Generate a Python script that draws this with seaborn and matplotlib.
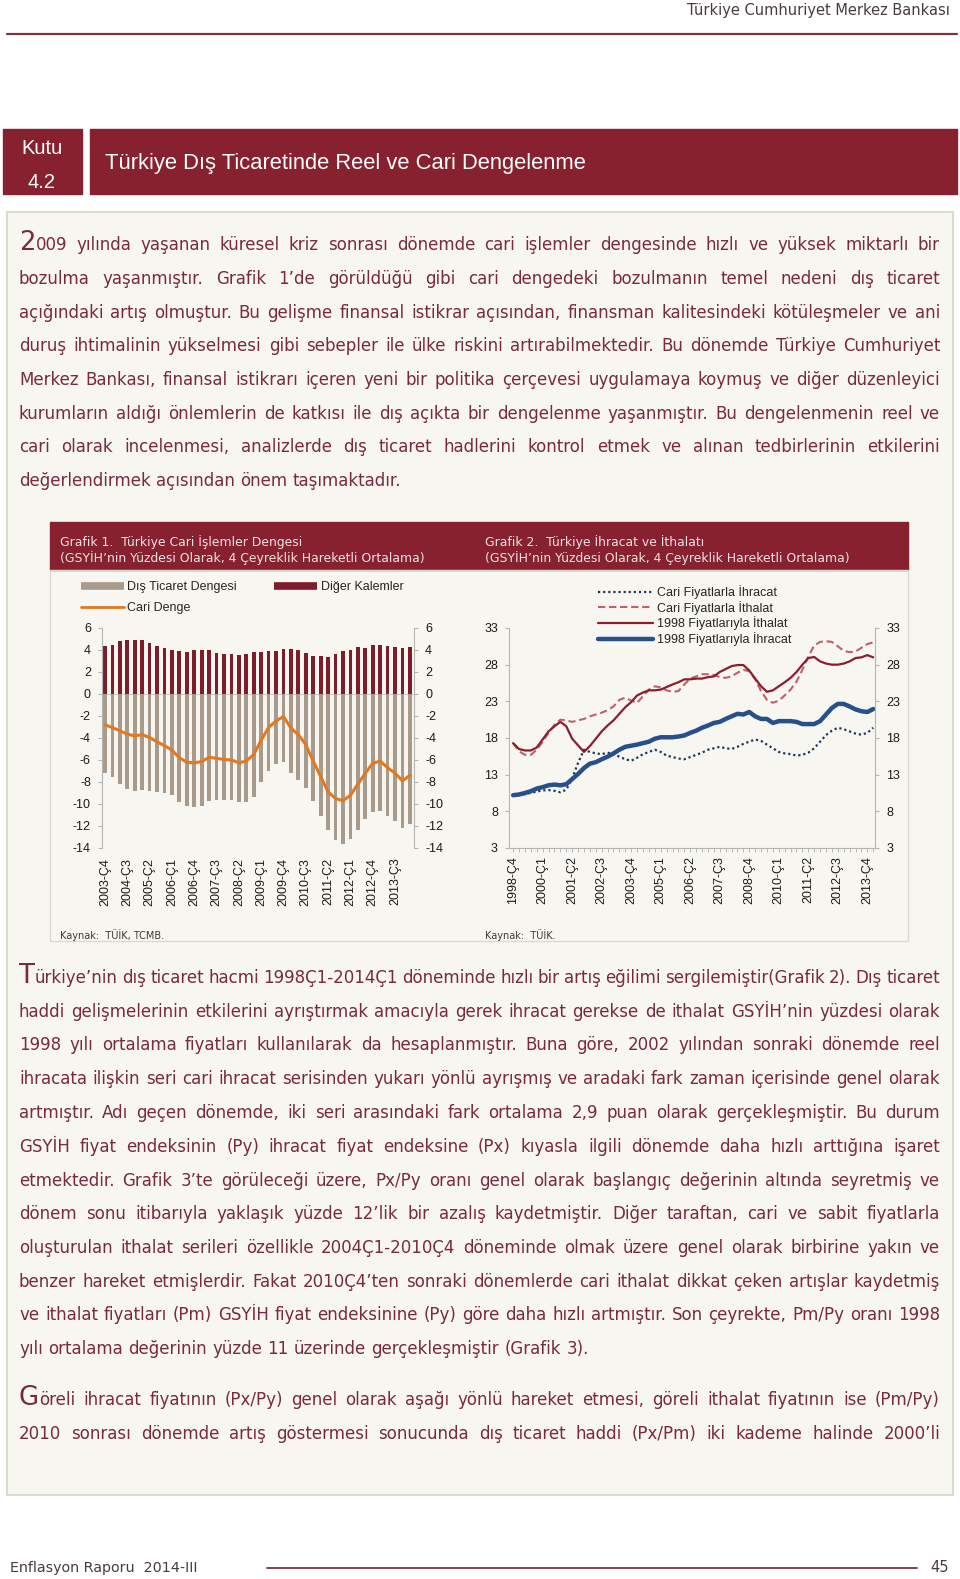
import numpy as np
import matplotlib
matplotlib.use('Agg')
import matplotlib.pyplot as plt
import seaborn as sns
from matplotlib.patches import Rectangle
from matplotlib.lines import Line2D

# Page size (pixels, dpi 100)
W, H = 960, 1579

# Grafik 1: Türkiye cari işlemler dengesi, 2003-Ç4 .. 2014-Ç1
g1_ticklabels = ['2003-Ç4', '2004-Ç3', '2005-Ç2', '2006-Ç1', '2006-Ç4', '2007-Ç3', '2008-Ç2',
                 '2009-Ç1', '2009-Ç4', '2010-Ç3', '2011-Ç2', '2012-Ç1', '2012-Ç4', '2013-Ç3']
dis_ticaret = [-7.2, -7.55, -8.15, -8.6, -8.8, -8.7, -8.8, -8.9, -9.0, -9.2,
               -9.8, -10.15, -10.25, -10.2, -9.75, -9.65, -9.6, -9.65, -9.8, -9.8,
               -9.35, -8.0, -7.0, -6.4, -6.15, -7.2, -7.8, -8.5, -9.7, -11.05,
               -12.4, -13.25, -13.6, -13.15, -12.4, -11.4, -10.7, -10.6, -11.1, -11.5,
               -12.2, -11.8]
diger_kalemler = [4.33, 4.48, 4.82, 4.88, 4.91, 4.94, 4.64, 4.39, 4.18, 4.03,
                  3.94, 3.85, 3.97, 3.97, 3.97, 3.73, 3.61, 3.64, 3.52, 3.64,
                  3.82, 3.82, 3.94, 3.94, 4.06, 4.06, 4.03, 3.73, 3.48, 3.42,
                  3.33, 3.64, 3.88, 4.03, 4.3, 4.21, 4.42, 4.48, 4.36, 4.27,
                  4.15, 4.3]
cari_denge = [-2.8, -3.05, -3.35, -3.65, -3.8, -3.7, -3.95, -4.35, -4.7, -5.1,
              -5.8, -6.2, -6.25, -6.15, -5.75, -5.85, -5.95, -6.0, -6.25, -6.1,
              -5.5, -4.2, -3.05, -2.45, -2.05, -3.1, -3.7, -4.6, -6.1, -7.5,
              -8.9, -9.5, -9.7, -9.2, -8.2, -7.2, -6.3, -6.1, -6.7, -7.2,
              -7.9, -7.4]

# Grafik 2: Türkiye ihracat ve ithalatı, 1998-Ç4 .. 2014-Ç1
g2_ticklabels = ['1998-Ç4', '2000-Ç1', '2001-Ç2', '2002-Ç3', '2003-Ç4', '2005-Ç1', '2006-Ç2',
                 '2007-Ç3', '2008-Ç4', '2010-Ç1', '2011-Ç2', '2012-Ç3', '2013-Ç4']
ihracat_cari = [10.3, 10.2, 10.35, 10.5, 10.7, 10.85, 10.9, 10.8, 10.6, 10.95,
                12.5, 14.6, 16.4, 16.1, 15.9, 15.8, 16.0, 15.8, 15.45, 15.1,
                14.9, 15.3, 15.8, 16.1, 16.4, 16.1, 15.6, 15.4, 15.2, 15.1,
                15.4, 15.7, 16.0, 16.4, 16.6, 16.8, 16.6, 16.5, 16.8, 17.2,
                17.5, 17.8, 17.6, 17.1, 16.6, 16.1, 15.9, 15.8, 15.6, 15.7,
                16.0, 16.6, 17.5, 18.4, 19.0, 19.4, 19.2, 18.9, 18.6, 18.45,
                18.7, 19.4]
ithalat_cari = [17.3, 16.2, 15.7, 15.7, 16.4, 17.5, 18.7, 19.8, 20.5, 20.4,
                20.2, 20.4, 20.6, 20.95, 21.2, 21.45, 21.8, 22.3, 23.2, 23.5,
                23.1, 22.8, 23.7, 24.6, 25.05, 24.9, 24.5, 24.3, 24.4, 25.3,
                26.1, 26.4, 26.7, 26.7, 26.6, 26.3, 26.2, 26.4, 26.9, 27.3,
                27.1, 26.0, 24.4, 23.2, 22.8, 23.1, 23.8, 24.6, 25.7, 27.3,
                29.1, 30.6, 31.1, 31.2, 31.1, 30.5, 29.9, 29.7, 29.8, 30.3,
                30.8, 31.05]
ithalat_1998 = [17.3, 16.5, 16.3, 16.3, 16.7, 17.8, 18.9, 19.6, 20.2, 19.6,
                17.9, 17.0, 16.1, 16.9, 17.9, 18.9, 19.7, 20.4, 21.3, 22.2,
                22.9, 23.8, 24.2, 24.5, 24.5, 24.6, 24.95, 25.3, 25.6, 26.0,
                26.0, 26.1, 26.1, 26.3, 26.4, 27.0, 27.4, 27.8, 27.95, 27.95,
                27.2, 26.1, 25.05, 24.3, 24.5, 25.05, 25.6, 26.2, 27.0, 28.0,
                28.9, 29.05, 28.45, 28.15, 28.0, 28.0, 28.15, 28.45, 28.9, 29.0,
                29.3, 29.0]
ihracat_1998 = [10.2, 10.3, 10.5, 10.75, 11.1, 11.3, 11.55, 11.65, 11.55, 11.7,
                12.4, 13.1, 13.9, 14.5, 14.7, 15.1, 15.45, 15.9, 16.4, 16.8,
                16.95, 17.1, 17.3, 17.5, 17.9, 18.1, 18.1, 18.1, 18.2, 18.35,
                18.7, 19.0, 19.4, 19.7, 20.05, 20.2, 20.6, 20.95, 21.3, 21.2,
                21.55, 20.95, 20.6, 20.6, 20.05, 20.3, 20.3, 20.3, 20.2, 19.9,
                19.9, 19.9, 20.3, 21.2, 22.1, 22.65, 22.65, 22.3, 21.9, 21.65,
                21.55, 21.95]

# Text of the box
para1 = [
    "2009 yılında yaşanan küresel kriz sonrası dönemde cari işlemler dengesinde hızlı ve yüksek miktarlı bir",
    "bozulma yaşanmıştır. Grafik 1’de görüldüğü gibi cari dengedeki bozulmanın temel nedeni dış ticaret",
    "açığındaki artış olmuştur. Bu gelişme finansal istikrar açısından, finansman kalitesindeki kötüleşmeler ve ani",
    "duruş ihtimalinin yükselmesi gibi sebepler ile ülke riskini artırabilmektedir. Bu dönemde Türkiye Cumhuriyet",
    "Merkez Bankası, finansal istikrarı içeren yeni bir politika çerçevesi uygulamaya koymuş ve diğer düzenleyici",
    "kurumların aldığı önlemlerin de katkısı ile dış açıkta bir dengelenme yaşanmıştır. Bu dengelenmenin reel ve",
    "cari olarak incelenmesi, analizlerde dış ticaret hadlerini kontrol etmek ve alınan tedbirlerinin etkilerini",
    "değerlendirmek açısından önem taşımaktadır.",
]
para2 = [
    "Türkiye’nin dış ticaret hacmi 1998Ç1-2014Ç1 döneminde hızlı bir artış eğilimi sergilemiştir(Grafik 2). Dış ticaret",
    "haddi gelişmelerinin etkilerini ayrıştırmak amacıyla gerek ihracat gerekse de ithalat GSYİH’nin yüzdesi olarak",
    "1998 yılı ortalama fiyatları kullanılarak da hesaplanmıştır. Buna göre, 2002 yılından sonraki dönemde reel",
    "ihracata ilişkin seri cari ihracat serisinden yukarı yönlü ayrışmış ve aradaki fark zaman içerisinde genel olarak",
    "artmıştır. Adı geçen dönemde, iki seri arasındaki fark ortalama 2,9 puan olarak gerçekleşmiştir. Bu durum",
    "GSYİH fiyat endeksinin (Py) ihracat fiyat endeksine (Px) kıyasla ilgili dönemde daha hızlı arttığına işaret",
    "etmektedir. Grafik 3’te görüleceği üzere, Px/Py oranı genel olarak başlangıç değerinin altında seyretmiş ve",
    "dönem sonu itibarıyla yaklaşık yüzde 12’lik bir azalış kaydetmiştir. Diğer taraftan, cari ve sabit fiyatlarla",
    "oluşturulan ithalat serileri özellikle 2004Ç1-2010Ç4 döneminde olmak üzere genel olarak birbirine yakın ve",
    "benzer hareket etmişlerdir. Fakat 2010Ç4’ten sonraki dönemlerde cari ithalat dikkat çeken artışlar kaydetmiş",
    "ve ithalat fiyatları (Pm) GSYİH fiyat endeksinine (Py) göre daha hızlı artmıştır. Son çeyrekte, Pm/Py oranı 1998",
    "yılı ortalama değerinin yüzde 11 üzerinde gerçekleşmiştir (Grafik 3).",
]
para3 = [
    "Göreli ihracat fiyatının (Px/Py) genel olarak aşağı yönlü hareket etmesi, göreli ithalat fiyatının ise (Pm/Py)",
    "2010 sonrası dönemde artış göstermesi sonucunda dış ticaret haddi (Px/Pm) iki kademe halinde 2000’li",
]

# Colours
RED = '#87202f'
TEXT_RED = '#7a2a38'
BEIGE = '#f7f6f1'
TAN = '#a99b8c'
DARK_RED = '#7e1c2c'
ORANGE = '#e5781f'
NAVY = '#1f3560'
ROSE = '#c0606b'
SOLID_RED = '#8b1e2f'
BLUE = '#27508a'
SPINE = '#b5b5b5'
GREY_TEXT = '#4a3b3f'

sns.set_theme(style='white')
plt.rcParams['font.family'] = ['Liberation Sans', 'DejaVu Sans']
plt.rcParams['axes.unicode_minus'] = False
BODY_FONT = ['DejaVu Sans']


def px_rect(x0, y0, x1, y1):
    # pixel box (top-left origin) -> figure fraction rect
    return [x0 / W, 1 - y1 / H, (x1 - x0) / W, (y1 - y0) / H]


fig = plt.figure(figsize=(W / 100, H / 100), dpi=100, facecolor='white')
page = fig.add_axes([0, 0, 1, 1])
page.set_xlim(0, W)
page.set_ylim(H, 0)
page.axis('off')

# Header
page.text(950, 10, 'Türkiye Cumhuriyet Merkez Bankası', ha='right', va='center',
          fontsize=10.5, color=GREY_TEXT, family=BODY_FONT)
page.plot([7, 957], [34, 34], color='#7b3440', lw=1.6)

# Title boxes
page.add_patch(Rectangle((3, 129), 79, 65, color=RED))
page.add_patch(Rectangle((90, 129), 867, 65, color=RED))
page.text(42, 149, 'Kutu', ha='center', va='center', color='white', fontsize=14.5)
page.text(42, 182, '4.2', ha='center', va='center', color='white', fontsize=14.5)
page.text(105, 164, 'Türkiye Dış Ticaretinde Reel ve Cari Dengelenme', ha='left', va='center',
          color='white', fontsize=15.8)

# Content box
page.add_patch(Rectangle((7, 212), 946, 1283, facecolor=BEIGE, edgecolor='#dcdccd', lw=1.5))

# Chart panel
page.add_patch(Rectangle((50, 522), 858, 48, color=RED))
page.add_patch(Rectangle((50, 570), 858, 371, fill=False, edgecolor='#dadad0', lw=1))
TITLE_C = '#f3e2e2'
page.text(60, 542, 'Grafik 1.  Türkiye Cari İşlemler Dengesi', va='center', color=TITLE_C,
          fontsize=8.9, family=BODY_FONT)
page.text(60, 558, '(GSYİH’nin Yüzdesi Olarak, 4 Çeyreklik Hareketli Ortalama)', va='center',
          color=TITLE_C, fontsize=8.9, family=BODY_FONT)
page.text(485, 542, 'Grafik 2.  Türkiye İhracat ve İthalatı', va='center', color=TITLE_C,
          fontsize=8.9, family=BODY_FONT)
page.text(485, 558, '(GSYİH’nin Yüzdesi Olarak, 4 Çeyreklik Hareketli Ortalama)', va='center',
          color=TITLE_C, fontsize=8.9, family=BODY_FONT)
page.text(60, 935, 'Kaynak:  TÜİK, TCMB.', va='center', color='#3a3a3a', fontsize=7,
          family=BODY_FONT)
page.text(485, 935, 'Kaynak:  TÜİK.', va='center', color='#3a3a3a', fontsize=7,
          family=BODY_FONT)

# Body text, justified word by word
BODY_SIZE = 12
renderer = fig.canvas.get_renderer()


def draw_paragraph(lines, y0, justify_last, x0=19, x1=940, step=33.75):
    size_px = BODY_SIZE * 100 / 72
    for k, line in enumerate(lines):
        y = y0 + k * step
        words = line.split()
        pieces = []
        total = 0
        for j, w in enumerate(words):
            if k == 0 and j == 0:
                parts = [page.text(0, y, w[0], fontsize=BODY_SIZE * 1.55, color=TEXT_RED,
                                   family=BODY_FONT, va='baseline'),
                         page.text(0, y, w[1:], fontsize=BODY_SIZE, color=TEXT_RED,
                                   family=BODY_FONT, va='baseline')]
            else:
                parts = [page.text(0, y, w, fontsize=BODY_SIZE, color=TEXT_RED,
                                   family=BODY_FONT, va='baseline')]
            ws = [p.get_window_extent(renderer).width for p in parts]
            pieces.append((parts, ws))
            total += sum(ws)
        is_last = k == len(lines) - 1 and not justify_last
        min_gap = 4.0
        n_gaps = max(len(words) - 1, 1)
        if total + min_gap * n_gaps > x1 - x0:
            # too long for the measure: shrink this line a little
            s = (x1 - x0 - min_gap * n_gaps) / total
            for parts, ws in pieces:
                for i, p in enumerate(parts):
                    p.set_fontsize(p.get_fontsize() * s)
                    ws[i] *= s
            total *= s
        if is_last or len(words) < 2:
            gap = size_px * 0.32
        else:
            gap = (x1 - x0 - total) / n_gaps
        x = x0
        for parts, ws in pieces:
            for p, wpx in zip(parts, ws):
                p.set_x(x)
                x += wpx
            x += gap


draw_paragraph(para1, 250, False)
draw_paragraph(para2, 983, False)
draw_paragraph(para3, 1405, True)

# Footer
page.text(10, 1568, 'Enflasyon Raporu  2014-III', va='center', fontsize=10.3, color=GREY_TEXT,
          family=BODY_FONT)
page.plot([267, 917], [1568, 1568], color='#7b3440', lw=1.3)
page.text(949, 1568, '45', ha='right', va='center', fontsize=10.5, color=GREY_TEXT,
          family=BODY_FONT)

# ---- Grafik 1 ----
ax1 = fig.add_axes(px_rect(102, 628, 414, 848))
idx1 = np.arange(len(dis_ticaret))
sns.barplot(x=idx1, y=dis_ticaret, native_scale=True, width=0.5, color=TAN, saturation=1,
            linewidth=0, errorbar=None, ax=ax1)
sns.barplot(x=idx1, y=diger_kalemler, native_scale=True, width=0.5, color=DARK_RED,
            saturation=1, linewidth=0, errorbar=None, ax=ax1)
sns.lineplot(x=idx1, y=cari_denge, color=ORANGE, linewidth=2.2, ax=ax1)
ax1.axhline(0, color='#c8c8c8', lw=0.8, zorder=0)
ax1.set_xlim(-0.4, 41.55)
ax1.set_ylim(-14, 6)
ax1.set_yticks(range(-14, 7, 2))
ax1.set_xticks(idx1[::3])
ax1.set_xticklabels(g1_ticklabels, rotation=90)
ax1.tick_params(axis='x', length=0, pad=7, labelsize=9, colors='#1a1a1a')
ax1.tick_params(axis='y', left=True, right=True, labelleft=True, labelright=True, length=3,
                width=0.8, color=SPINE, labelcolor='#1a1a1a', direction='out', pad=5, labelsize=9)
for s in ['top', 'bottom']:
    ax1.spines[s].set_visible(False)
for s in ['left', 'right']:
    ax1.spines[s].set_color(SPINE)
    ax1.spines[s].set_linewidth(0.8)
ax1.set_facecolor('none')
ax1.set_xlabel('')
ax1.set_ylabel('')

h1 = [Line2D([], [], color=TAN, lw=5.5, solid_capstyle='butt'),
      Line2D([], [], color=ORANGE, lw=2),
      Line2D([], [], color=DARK_RED, lw=5.5, solid_capstyle='butt')]
fig.legend(handles=h1, labels=['Dış Ticaret Dengesi', 'Cari Denge', 'Diğer Kalemler'],
           loc='upper left', bbox_to_anchor=(81 / W, 1 - 581 / H), ncol=2, frameon=False,
           fontsize=9, handlelength=3.4, handletextpad=0.3, columnspacing=3.0,
           labelspacing=0.75, borderpad=0, borderaxespad=0)

# ---- Grafik 2 ----
ax2 = fig.add_axes(px_rect(509, 628, 875, 848))
idx2 = np.arange(len(ihracat_cari))
sns.lineplot(x=idx2, y=ihracat_cari, color=NAVY, linewidth=1.6, linestyle=(0, (1, 1.3)), ax=ax2)
sns.lineplot(x=idx2, y=ithalat_cari, color=ROSE, linewidth=1.5, linestyle=(0, (3.5, 1.8)), ax=ax2)
sns.lineplot(x=idx2, y=ithalat_1998, color=SOLID_RED, linewidth=1.6, ax=ax2)
sns.lineplot(x=idx2, y=ihracat_1998, color=BLUE, linewidth=3.2, ax=ax2)
ax2.set_xlim(-0.7, 61.3)
ax2.set_ylim(3, 33)
ax2.set_yticks(range(3, 34, 5))
ax2.set_xticks(idx2[::5])
ax2.set_xticklabels(g2_ticklabels, rotation=90)
ax2.set_xticks(idx2, minor=True)
ax2.tick_params(axis='x', which='both', bottom=True, length=3, width=0.7, color=SPINE,
                direction='out', pad=3, labelsize=9, labelcolor='#1a1a1a')
ax2.tick_params(axis='y', left=True, right=True, labelleft=True, labelright=True, length=3,
                width=0.8, color=SPINE, labelcolor='#1a1a1a', direction='out', pad=5, labelsize=9)
ax2.spines['top'].set_visible(False)
for s in ['left', 'right', 'bottom']:
    ax2.spines[s].set_color(SPINE)
    ax2.spines[s].set_linewidth(0.8)
ax2.set_facecolor('none')
ax2.set_xlabel('')
ax2.set_ylabel('')

h2 = [Line2D([], [], color=NAVY, lw=1.6, linestyle=(0, (1, 1.3))),
      Line2D([], [], color=ROSE, lw=1.5, linestyle=(0, (3.5, 1.8))),
      Line2D([], [], color=SOLID_RED, lw=1.6),
      Line2D([], [], color=BLUE, lw=3.2)]
fig.legend(handles=h2, labels=['Cari Fiyatlarla İhracat', 'Cari Fiyatlarla İthalat',
                               '1998 Fiyatlarıyla İthalat', '1998 Fiyatlarıyla İhracat'],
           loc='upper left', bbox_to_anchor=(598 / W, 1 - 585 / H), ncol=1, frameon=False,
           fontsize=9, handlelength=4.4, handletextpad=0.3, labelspacing=0.14,
           borderpad=0, borderaxespad=0)

fig.savefig('out.png', dpi=100, facecolor='white')
